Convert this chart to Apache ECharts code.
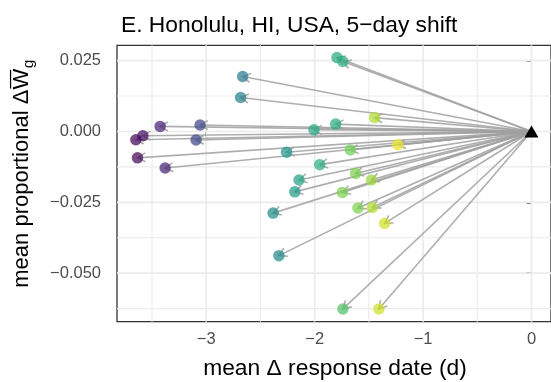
<!DOCTYPE html>
<html><head><meta charset="utf-8">
<script src="https://cdn.jsdelivr.net/npm/echarts@6/dist/echarts.min.js"></script>
<style>html,body{margin:0;padding:0;background:#fff}#c{width:551px;height:382px}</style>
</head><body><div id="c"></div>
<script>
// mean delta response date (d)
const shiftX = [-1.794,-1.739,-2.664,-2.683,-3.425,-3.057,-3.584,-3.649,-3.094,-3.634,
                -3.379,-2.006,-1.806,-1.447,-1.233,-1.671,-2.259,-1.953,-2.144,-2.183,
                -1.622,-1.477,-1.744,-1.601,-1.468,-1.355,-2.383,-2.330,-1.739,-1.408];
// mean proportional delta W
const shiftY = [0.0261,0.0247,0.0194,0.0120,0.0018,0.0023,-0.0015,-0.0029,-0.0030,-0.0093,
                -0.0129,0.0006,0.0026,0.0049,-0.0047,-0.0065,-0.0073,-0.0117,-0.0171,-0.0213,
                -0.0148,-0.0171,-0.0215,-0.0270,-0.0268,-0.0324,-0.0288,-0.0438,-0.0626,-0.0626];
// colour variable (viridis position)
const shade  = [0.60,0.62,0.42,0.43,0.10,0.22,0.04,0.01,0.22,0.02,
                0.10,0.60,0.62,0.88,0.97,0.78,0.52,0.63,0.58,0.55,
                0.80,0.85,0.80,0.80,0.88,0.93,0.48,0.48,0.72,0.93];
const origin = [0, 0];
const xTicks = [-3, -2, -1, 0];
const xMinor = [-3.5, -2.5, -1.5, -0.5];
const yTicks = [0.025, 0, -0.025, -0.05];
const yMinor = [0.0125, -0.0125, -0.0375, -0.0625];
const xRange = [-3.823, 0.18];
const yRange = [-0.0671, 0.0304];
const titleText = 'E. Honolulu, HI, USA, 5\u2212day shift';
const xTitle = 'mean \u0394 response date (d)';

const FONT = "'Liberation Sans', Arial, Helvetica, sans-serif";
const viridis = ['#440154','#482878','#3e4989','#31688e','#26828e','#1f9e89','#35b779','#6ece58','#b5de2b','#fde725'];
const fmtMinus = s => s.replace('-', '\u2212');

const gridData = [
  ...xTicks.map(v => [v, 0, 0]), ...xMinor.map(v => [v, 0, 1]),
  ...yTicks.map(v => [0, v, 2]), ...yMinor.map(v => [0, v, 3])
];
const arrowData = shiftX.map((x, i) => [x, shiftY[i]]);
const pointData = shiftX.map((x, i) => [x, shiftY[i], shade[i]]);

// y-axis title pieces
const yFs = 22;
const mctx = document.createElement('canvas').getContext('2d');
mctx.font = yFs + 'px ' + FONT;
const w1 = mctx.measureText('mean proportional \u0394').width;
const wW = mctx.measureText('W').width;
mctx.font = (yFs * 0.7) + 'px ' + FONT;
const wg = mctx.measureText('g').width;
const T = w1 + wW + wg;
const x0 = -T / 2;

const chart = echarts.init(document.getElementById('c'), null, {renderer: 'canvas'});
chart.setOption({
  animation: false,
  backgroundColor: '#fff',
  title: {
    text: titleText, left: 116, top: 9,
    textStyle: {fontSize: 22.8, fontWeight: 'normal', color: '#000', fontFamily: FONT}
  },
  grid: {left: 117, top: 45.3, width: 435, height: 276.4, show: true,
         borderColor: '#333', borderWidth: 1.3, backgroundColor: 'transparent', containLabel: false},
  xAxis: {
    type: 'value', min: xRange[0], max: xRange[1],
    axisLine: {show: false}, splitLine: {show: false},
    axisTick: {show: true, customValues: xTicks, length: 5, lineStyle: {color: '#333', width: 1.5}},
    axisLabel: {customValues: xTicks, color: '#4d4d4d', fontSize: 16.5, fontFamily: FONT, margin: 9,
                formatter: v => fmtMinus(String(v))}
  },
  yAxis: {
    type: 'value', min: yRange[0], max: yRange[1],
    axisLine: {show: false}, splitLine: {show: false},
    axisTick: {show: true, customValues: yTicks, length: 5, lineStyle: {color: '#333', width: 1.5}},
    axisLabel: {customValues: yTicks, color: '#4d4d4d', fontSize: 16.5, fontFamily: FONT, margin: 16,
                formatter: v => fmtMinus(Number(v).toFixed(3))}
  },
  visualMap: {show: false, type: 'continuous', seriesIndex: 2, dimension: 2, min: 0, max: 1,
              inRange: {color: viridis}},
  series: [
    {
      type: 'custom', z: 1, silent: true, data: gridData,
      renderItem: (params, api) => {
        const k = api.value(2);
        let p1, p2;
        if (k < 2) { const v = api.value(0); p1 = api.coord([v, yRange[0]]); p2 = api.coord([v, yRange[1]]); }
        else { const v = api.value(1); p1 = api.coord([xRange[0], v]); p2 = api.coord([xRange[1], v]); }
        return {type: 'line', shape: {x1: p1[0], y1: p1[1], x2: p2[0], y2: p2[1]},
                style: {stroke: '#ebebeb', lineWidth: (k % 2 === 0) ? 1.7 : 1.1}};
      }
    },
    {
      type: 'custom', z: 3, silent: true, data: arrowData,
      renderItem: (params, api) => {
        const p0 = api.coord(origin);
        const p1 = api.coord([api.value(0), api.value(1)]);
        const dx = p1[0] - p0[0], dy = p1[1] - p0[1];
        const len = Math.hypot(dx, dy);
        const bx = -dx / len, by = -dy / len;
        const L = 9, a = Math.PI / 6;
        const r = (ang) => [p1[0] + L * (bx * Math.cos(ang) - by * Math.sin(ang)),
                            p1[1] + L * (bx * Math.sin(ang) + by * Math.cos(ang))];
        const s = {stroke: 'rgba(160,160,160,0.85)', lineWidth: 1.6, fill: null};
        return {type: 'group', children: [
          {type: 'line', shape: {x1: p0[0], y1: p0[1], x2: p1[0], y2: p1[1]}, style: s},
          {type: 'polyline', shape: {points: [r(a), p1, r(-a)]}, style: s}
        ]};
      }
    },
    {
      type: 'scatter', z: 4, silent: true, data: pointData, symbol: 'circle', symbolSize: 11.5,
      itemStyle: {opacity: 0.72}
    },
    {
      type: 'scatter', z: 5, silent: true, data: [origin], symbol: 'triangle', symbolSize: [14, 12],
      itemStyle: {color: '#000', opacity: 1}
    }
  ],
  graphic: [
    {type: 'text', x: 335, y: 369, silent: true,
     style: {text: xTitle, fontSize: 22.8, fontFamily: FONT, fill: '#000',
             align: 'center', verticalAlign: 'middle', textAlign: 'center', textVerticalAlign: 'middle'}},
    {type: 'group', x: 22, y: 174, rotation: Math.PI / 2, silent: true, children: [
      {type: 'text', x: x0, y: 0, style: {text: 'mean proportional \u0394', fontSize: yFs, fontFamily: FONT, fill: '#000',
        align: 'left', verticalAlign: 'middle', textAlign: 'left', textVerticalAlign: 'middle'}},
      {type: 'text', x: x0 + w1, y: 0, style: {text: 'W', fontSize: yFs, fontFamily: FONT, fill: '#000',
        align: 'left', verticalAlign: 'middle', textAlign: 'left', textVerticalAlign: 'middle'}},
      {type: 'line', shape: {x1: x0 + w1 + 1, y1: -yFs * 0.52, x2: x0 + w1 + wW - 1, y2: -yFs * 0.52},
       style: {stroke: '#000', lineWidth: 1.2}},
      {type: 'text', x: x0 + w1 + wW + 0.5, y: yFs * 0.3, style: {text: 'g', fontSize: yFs * 0.7, fontFamily: FONT, fill: '#000',
        align: 'left', verticalAlign: 'middle', textAlign: 'left', textVerticalAlign: 'middle'}}
    ]}
  ]
});
</script>
</body></html>
